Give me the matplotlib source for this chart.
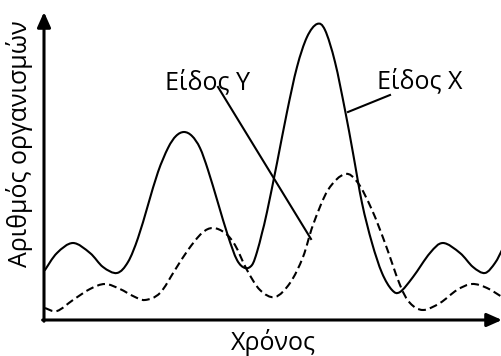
import matplotlib
matplotlib.use("Agg")
import matplotlib.pyplot as plt
from matplotlib.path import Path
from matplotlib.patches import PathPatch

# Population of two species over time (arbitrary units)
time_x = [1, 13, 29, 46, 59, 73, 84, 94, 104, 114, 124, 132, 140, 148, 156, 164,
          174, 184, 193, 201, 208, 213, 218, 223, 233, 243, 253, 263, 273, 281,
          291, 301, 309, 318, 328, 338, 348, 356, 369, 386, 399, 416, 429, 441,
          451, 458]
species_x = [50, 67, 77, 67, 53, 47, 58, 82, 115, 148, 172, 184, 188, 184, 172, 150,
             117, 84, 60, 52, 55, 68, 87, 108, 157, 208, 253, 283, 296, 290,
             258, 210, 167, 117, 77, 47, 30, 28, 43, 67, 77, 67, 53, 47,
             57, 70]

time_y = [1, 13, 29, 46, 61, 76, 89, 101, 116, 131, 144, 158, 169, 181, 191, 203,
          216, 231, 246, 259, 269, 284, 301, 314, 328, 341, 356, 366, 379, 396,
          413, 428, 443, 458]
species_y = [12, 9, 20, 31, 36, 31, 24, 20, 27, 50, 70, 87, 92, 87, 75, 50,
             30, 23, 37, 63, 95, 130, 146, 137, 110, 77, 35, 17, 10, 17,
             30, 36, 32, 23]

label_x = "Είδος Χ"
label_y = "Είδος Υ"
axis_x_title = "Χρόνος"
axis_y_title = "Αριθμός οργανισμών"

plt.rcParams["font.family"] = ["Open Sans", "DejaVu Sans"]


def smooth_path(xs, ys):
    """Cubic Bezier path through every point (Catmull-Rom tangents)."""
    pts = list(zip(xs, ys))
    n = len(pts)
    verts = [pts[0]]
    codes = [Path.MOVETO]
    for i in range(n - 1):
        p0 = pts[max(i - 1, 0)]
        p1 = pts[i]
        p2 = pts[i + 1]
        p3 = pts[min(i + 2, n - 1)]
        c1 = (p1[0] + (p2[0] - p0[0]) / 6, p1[1] + (p2[1] - p0[1]) / 6)
        c2 = (p2[0] - (p3[0] - p1[0]) / 6, p2[1] - (p3[1] - p1[1]) / 6)
        verts += [c1, c2, p2]
        codes += [Path.CURVE4] * 3
    return Path(verts, codes)


W, H = 502, 356
fig = plt.figure(figsize=(W / 100, H / 100), dpi=100)
ax = fig.add_axes([44 / W, 36 / H, 458 / W, 308 / H])
ax.set_xlim(0, 458)
ax.set_ylim(0, 308)
ax.axis("off")

ax.add_patch(PathPatch(smooth_path(time_x, species_x), fill=False, color="black",
                       lw=1.5, capstyle="round", joinstyle="round", clip_on=False))
ax.add_patch(PathPatch(smooth_path(time_y, species_y), fill=False, color="black",
                       lw=1.5, linestyle=(0, (3.8, 2.0)), clip_on=False))

# Axes drawn as arrows
arrow_kw = dict(arrowstyle="-|>,head_length=0.45,head_width=0.2", lw=2.2,
                color="black", shrinkA=0, shrinkB=0, mutation_scale=20)
ax.annotate("", xy=(0, 1), xytext=(0, -0.004), xycoords="axes fraction",
            textcoords="axes fraction", arrowprops=arrow_kw, annotation_clip=False)
ax.annotate("", xy=(1, 0), xytext=(-0.003, 0), xycoords="axes fraction",
            textcoords="axes fraction", arrowprops=arrow_kw, annotation_clip=False)

# Species labels with pointer lines
ax.plot([174, 267], [233, 81], color="black", lw=1.5)
ax.plot([346, 304], [225, 208], color="black", lw=1.5)
ax.text(164, 231, label_y, ha="center", va="baseline", fontsize=18)
ax.text(376, 232, label_x, ha="center", va="baseline", fontsize=18)

fig.text(273 / W, 1 - 343 / H, axis_x_title, ha="center", va="center", fontsize=18)
fig.text(20 / W, 1 - 144 / H, axis_y_title, ha="center", va="center",
         rotation=90, fontsize=18)

fig.savefig("out.png", dpi=100)
